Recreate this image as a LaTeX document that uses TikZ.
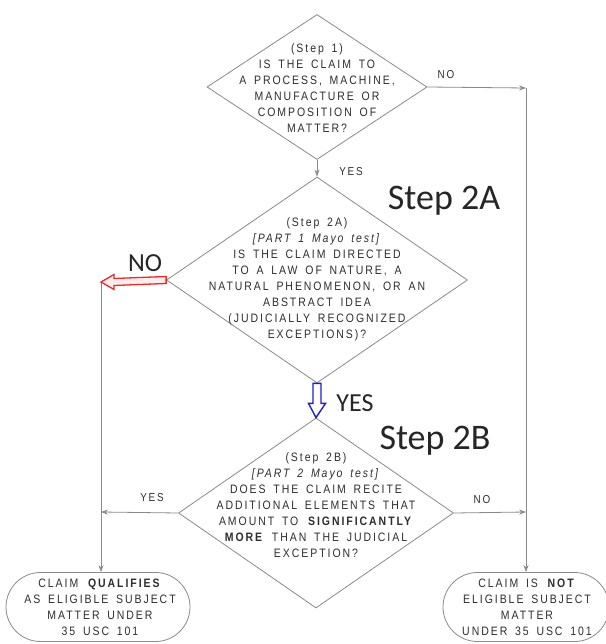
\documentclass[tikz,border=0pt]{standalone}
\usepackage{fontspec}
\setmainfont{Liberation Sans}
\newfontfamily\cadfont[FakeStretch=0.86,LetterSpace=16,WordSpace=1.6]{Liberation Sans}
\newfontfamily\stepfont{Carlito}
\usetikzlibrary{shapes.geometric,shapes.misc,arrows.meta,calc}
\definecolor{linegray}{HTML}{8A8A8A}
\definecolor{txtgray}{HTML}{2E2E2E}
\definecolor{redarrow}{HTML}{E0302E}
\definecolor{pinkfill}{HTML}{FDECEC}
\definecolor{bluearrow}{HTML}{2020C8}
\begin{document}
\begin{tikzpicture}[x=1pt,y=-1pt,
  dia/.style={diamond, draw=linegray, line width=0.8pt, inner sep=0pt},
  term/.style={rounded rectangle, draw=linegray, line width=0.8pt, inner sep=0pt, minimum height=69pt},
  cad/.style={font=\cadfont\fontsize{12.2}{16}\selectfont, text=txtgray, align=center, inner sep=0pt},
  lbl/.style={font=\cadfont\fontsize{11.5}{12}\selectfont, text=txtgray, inner sep=0pt},
  big/.style={font=\stepfont\fontsize{36}{40}\selectfont, text=black!85, inner sep=0pt},
  mid/.style={font=\stepfont\fontsize{26}{30}\selectfont, text=black!85, inner sep=0pt},
  arr/.style={draw=linegray, line width=0.8pt, -{Stealth[length=7pt,width=5pt]}},
  ln/.style={draw=linegray, line width=0.8pt}
]
\useasboundingbox (0,0) rectangle (605,644);
\fill[white] (0,0) rectangle (605,644);

% diamonds
\node[dia, minimum width=220pt, minimum height=145pt] (d1) at (317,87) {};
\node[dia, minimum width=301pt, minimum height=206pt] (d2) at (317,280) {};
\node[dia, minimum width=275pt, minimum height=190pt] (d3) at (316,513) {};

% terminals
\node[term, minimum width=184pt] (e1) at (98,607) {};
\node[term, minimum width=166pt] (e2) at (526,607) {};

% diamond texts
\node[cad] (t1) at (317,88) {(Step 1)\\IS THE CLAIM TO\\A PROCESS, MACHINE,\\MANUFACTURE OR\\COMPOSITION OF\\MATTER?};
\node[cad] (t2) at (317,279) {(Step 2A)\\\textit{[PART 1 Mayo test]}\\IS THE CLAIM DIRECTED\\TO A LAW OF NATURE, A\\NATURAL PHENOMENON, OR AN\\ABSTRACT IDEA\\(JUDICIALLY RECOGNIZED\\EXCEPTIONS)?};
\node[cad] (t3) at (316,505) {(Step 2B)\\\textit{[PART 2 Mayo test]}\\DOES THE CLAIM RECITE\\ADDITIONAL ELEMENTS THAT\\AMOUNT TO \textbf{SIGNIFICANTLY}\\\textbf{MORE} THAN THE JUDICIAL\\EXCEPTION?};
\node[cad] (t4) at (100,607) {CLAIM \textbf{QUALIFIES}\\AS ELIGIBLE SUBJECT\\MATTER UNDER\\35 USC 101};
\node[cad] (t5) at (527,607) {CLAIM IS \textbf{NOT}\\ELIGIBLE SUBJECT\\MATTER\\UNDER 35 USC 101};

% corner coordinates
\coordinate (c1) at (526,88);
\coordinate (c2) at (101,282);
\coordinate (c3) at (101,512);
\coordinate (c4) at (526,512);

% connectors
\draw[arr] (d1.east) -- (c1);
\draw[arr] (c1) -- (e2.north);
\draw[arr] (d1.south) -- (d2.north);
\draw[arr] (c2) -- (c2 |- e1.north);
\draw[arr] (d3.west) -- (c3);
\draw[arr] (d3.east) -- (c4);

% red hollow arrow (NO from step 2A)
\draw[redarrow, line width=1.3pt, fill=pinkfill, line join=miter]
  ($(d2.west)+(0,-3.5)$) -- ($(c2)+(13,-3.5)$) -- ($(c2)+(13,-7.5)$) -- (c2)
  -- ($(c2)+(13,7.5)$) -- ($(c2)+(13,3.5)$) -- ($(d2.west)+(0,3.5)$) -- cycle;

% blue hollow arrow (YES from step 2A)
\draw[bluearrow, line width=1.4pt, fill=white, line join=miter]
  ($(d2.south)+(-4,0)$) -- ($(d2.south)+(-4,20)$) -- ($(d2.south)+(-8.5,20)$) -- (d3.north)
  -- ($(d2.south)+(8.5,20)$) -- ($(d2.south)+(4,20)$) -- ($(d2.south)+(4,0)$) -- cycle;

% labels
\node[lbl] (l1) at (446,75) {NO};
\node[lbl] (l2) at (351,172) {YES};
\node[lbl] (l3) at (152,498) {YES};
\node[lbl] (l4) at (482,500) {NO};
\node[big] (s2a) at (444,201) {Step 2A};
\node[big] (s2b) at (435,441) {Step 2B};
\node[mid] (no) at (145,263) {NO};
\node[mid] (yes) at (355,403) {YES};
\end{tikzpicture}
\end{document}
